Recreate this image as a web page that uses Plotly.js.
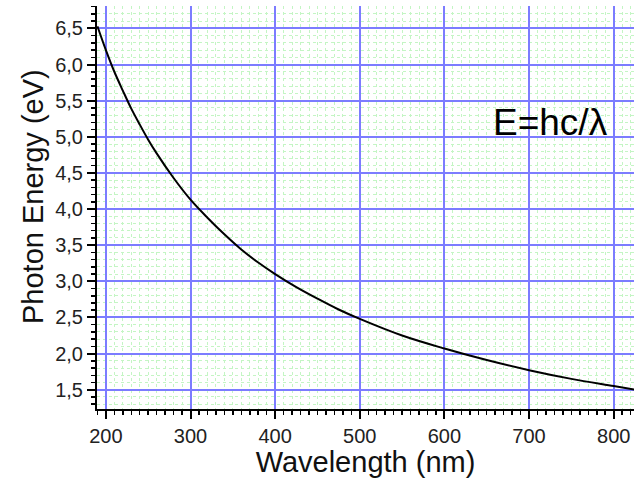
<!DOCTYPE html>
<html>
<head>
<meta charset="utf-8">
<script src="https://cdn.plot.ly/plotly-3.0.1.min.js"></script>
<style>html,body{margin:0;padding:0;background:#fff;}#chart{width:635px;height:478px;}</style>
</head>
<body>
<div id="chart"></div>
<script>
// Wavelength (nm)
var wavelength = [190, 200, 210, 220, 230, 240, 250, 260, 280, 300, 320, 340, 360, 380, 400, 425, 450, 475, 500, 550, 600, 650, 700, 750, 800, 825];
// Photon energy (eV)
var energy = [6.53, 6.20, 5.90, 5.64, 5.39, 5.17, 4.96, 4.77, 4.43, 4.13, 3.88, 3.65, 3.44, 3.26, 3.10, 2.92, 2.76, 2.61, 2.48, 2.25, 2.07, 1.91, 1.77, 1.65, 1.55, 1.50];
var formulaLabel = "E=hc/λ";
var yTitle = "Photon Energy (eV)";
var xTitle = "Wavelength (nm)";

var trace = {
  x: wavelength, y: energy, type: 'scatter', mode: 'lines',
  line: {color: '#000000', width: 2, shape: 'spline'},
  hoverinfo: 'none'
};

var font = {family: 'Liberation Sans, Arial, sans-serif', color: '#222'};

var layout = {
  width: 635, height: 478,
  margin: {l: 97, r: 1, t: 6, b: 69},
  paper_bgcolor: '#fff', plot_bgcolor: '#fff',
  separators: ',.',
  showlegend: false,
  font: font,
  xaxis: {
    range: [189.5, 824], dtick: 100, tick0: 0,
    showline: true, linecolor: '#000', linewidth: 2,
    ticks: 'outside', ticklen: 8, tickwidth: 2, tickcolor: '#000',
    tickfont: {family: font.family, size: 20, color: '#222'},
    showgrid: true, gridcolor: '#7c7cff', gridwidth: 2,
    zeroline: false,
    minor: {dtick: 10, ticks: 'outside', ticklen: 4, tickwidth: 1.5, tickcolor: '#000',
            showgrid: true, gridcolor: '#c4f5c4', gridwidth: 1, griddash: 'dot'},
    title: {text: xTitle, font: {family: font.family, size: 29, color: '#111'}, standoff: 5}
  },
  yaxis: {
    range: [1.233, 6.81], dtick: 0.5, tick0: 0, tickformat: '.1f',
    showline: true, linecolor: '#000', linewidth: 2,
    ticks: 'outside', ticklen: 8, tickwidth: 2, tickcolor: '#000',
    tickfont: {family: font.family, size: 20, color: '#222'},
    showgrid: true, gridcolor: '#7c7cff', gridwidth: 2,
    zeroline: false,
    minor: {dtick: 0.1, ticks: 'outside', ticklen: 4, tickwidth: 1.5, tickcolor: '#000',
            showgrid: true, gridcolor: '#c4f5c4', gridwidth: 1, griddash: 'dot'}
  },
  annotations: [{
    text: formulaLabel, xref: 'paper', yref: 'paper',
    x: 0.845, y: 0.712, xanchor: 'center', yanchor: 'middle', showarrow: false,
    font: {family: font.family, size: 37, color: '#000'}
  }, {
    text: yTitle, xref: 'paper', yref: 'paper', textangle: -90,
    x: (33 - 97) / 537, y: (409 - 197) / 403, xanchor: 'center', yanchor: 'middle', showarrow: false,
    font: {family: font.family, size: 29, color: '#111'}
  }]
};

Plotly.newPlot('chart', [trace], layout, {staticPlot: true, displayModeBar: false});
</script>
</body>
</html>
